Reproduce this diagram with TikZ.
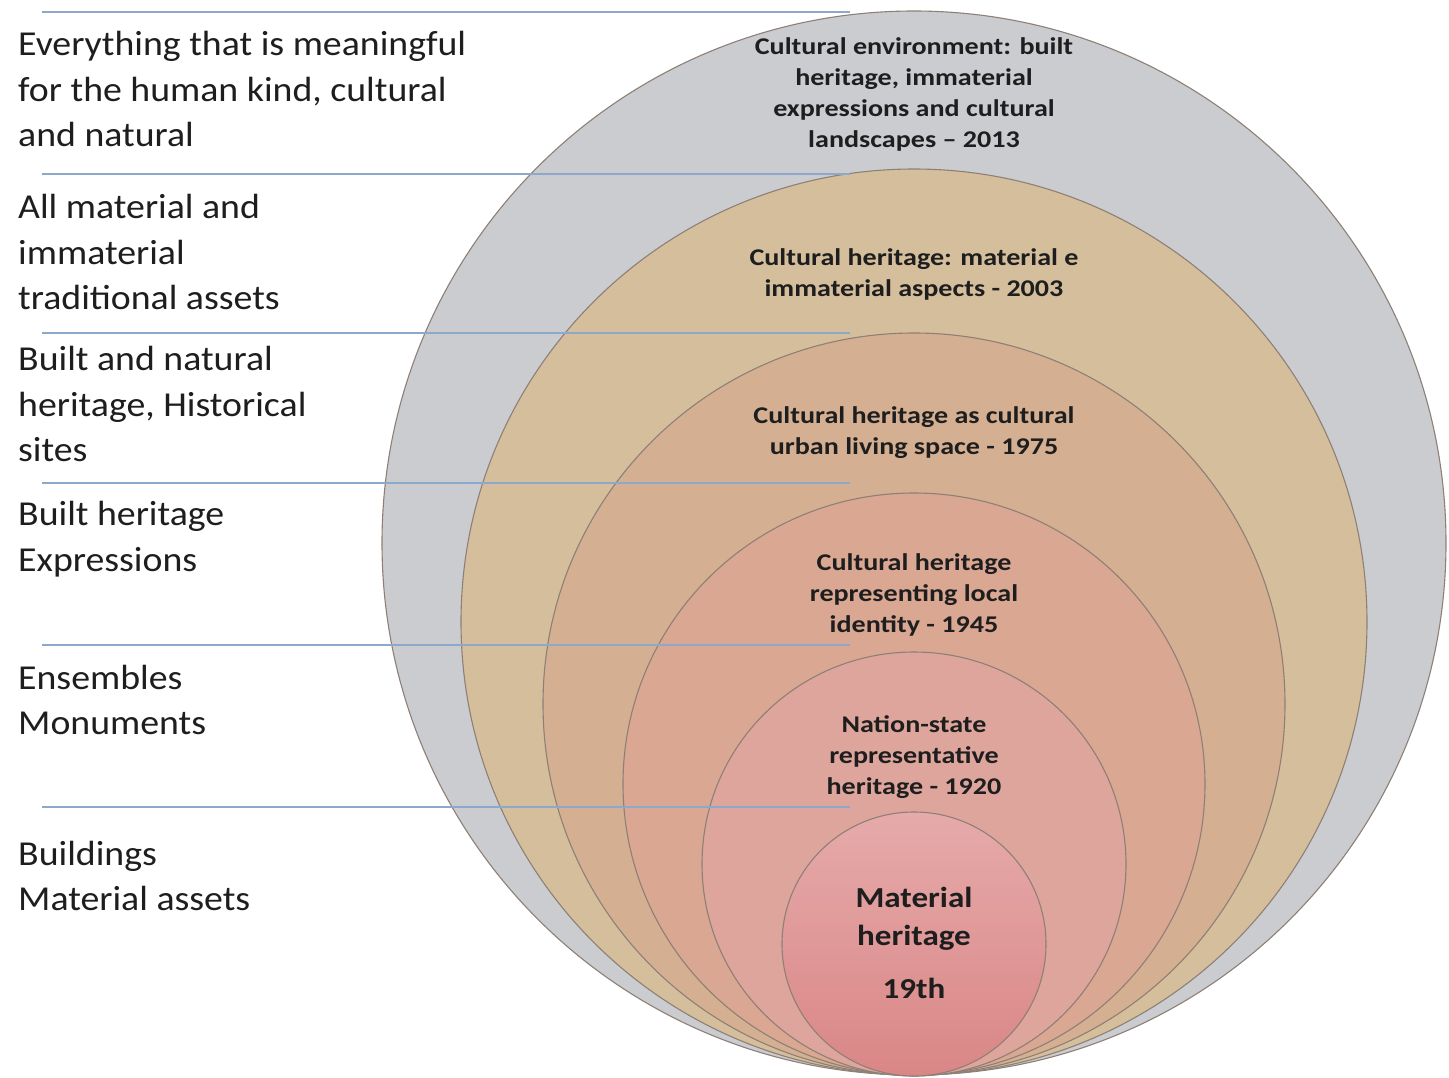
\documentclass[tikz,border=0pt]{standalone}
\usepackage{fontspec}
\setmainfont{Carlito}
\newfontfamily\sidefont[FakeStretch=1.08]{Carlito}
\newfontfamily\ringfont[FakeStretch=1.17]{Carlito}
\newfontfamily\corefont[FakeStretch=1.14]{Carlito}
\usepackage{tikz}

\definecolor{ringgray}{HTML}{CBCCD0}
\definecolor{ringtan}{HTML}{D5BE9C}
\definecolor{ringsand}{HTML}{D5AF91}
\definecolor{ringsalmon}{HTML}{D9A792}
\definecolor{ringrose}{HTML}{DEA59C}
\definecolor{corelight}{HTML}{E6AAAA}
\definecolor{coredark}{HTML}{DA8686}
\definecolor{ringedge}{HTML}{8E8076}
\definecolor{lineblue}{HTML}{8CA8CB}
\definecolor{inktext}{HTML}{1E1E1E}

\tikzset{
  ring/.style={draw=ringedge, line width=1.1pt},
  ringlabel/.style={align=center, inner sep=0pt, text=inktext, font=\ringfont\bfseries\fontsize{24}{31}\selectfont},
  corelabel/.style={align=center, inner sep=0pt, text=inktext, font=\corefont\bfseries\fontsize{29}{38}\selectfont},
  sidelabel/.style={anchor=west, align=left, inner sep=0pt, text=inktext, font=\sidefont\fontsize{35}{45.5}\selectfont},
  sepline/.style={draw=lineblue, line width=1.6pt}
}

\begin{document}
\begin{tikzpicture}[x=1pt, y=-1pt]
\useasboundingbox (0,0) rectangle (1449,1077);
\fill[white] (0,0) rectangle (1449,1077);

\fill[ringgray] (914,543) circle (532pt);
\draw[ring] (914,543) circle (532pt);
\fill[ringtan] (914,622) circle (453pt);
\draw[ring] (914,622) circle (453pt);
\fill[ringsand] (914,704) circle (371pt);
\draw[ring] (914,704) circle (371pt);
\fill[ringsalmon] (914,784) circle (291pt);
\draw[ring] (914,784) circle (291pt);
\fill[ringrose] (914,864) circle (212pt);
\draw[ring] (914,864) circle (212pt);
\shade[top color=corelight, bottom color=coredark] (914,944) circle (132pt);
\draw[ring] (914,944) circle (132pt);

\coordinate (s1a) at (42,12);   \coordinate (s1b) at (850,12);
\coordinate (s2a) at (42,174);  \coordinate (s2b) at (850,174);
\coordinate (s3a) at (42,333);  \coordinate (s3b) at (850,333);
\coordinate (s4a) at (42,483);  \coordinate (s4b) at (850,483);
\coordinate (s5a) at (42,645);  \coordinate (s5b) at (850,645);
\coordinate (s6a) at (42,807);  \coordinate (s6b) at (850,807);
\draw[sepline] (s1a) -- (s1b);
\draw[sepline] (s2a) -- (s2b);
\draw[sepline] (s3a) -- (s3b);
\draw[sepline] (s4a) -- (s4b);
\draw[sepline] (s5a) -- (s5b);
\draw[sepline] (s6a) -- (s6b);

\node[sidelabel] (everything) at (18,89) {Everything that is meaningful\\for the human kind, cultural\\and natural};
\node[sidelabel] (allassets) at (18,252) {All material and\\immaterial\\traditional assets};
\node[sidelabel] (builtnatural) at (18,404) {Built and natural\\heritage, Historical\\sites};
\node[sidelabel] (builtexpr) at (18,539) {Built heritage\\Expressions};
\node[sidelabel] (ensembles) at (18,700) {Ensembles\\Monuments};
\node[sidelabel] (buildings) at (18,876) {Buildings\\Material assets};

\node[ringlabel] (environment) at (914,94) {Cultural environment: built\\heritage, immaterial\\expressions and cultural\\landscapes – 2013};
\node[ringlabel] (heritage2003) at (914,274) {Cultural heritage: material e\\immaterial aspects - 2003};
\node[ringlabel] (heritage1975) at (914,433) {Cultural heritage as cultural\\urban living space - 1975};
\node[ringlabel] (heritage1945) at (914,595) {Cultural heritage\\representing local\\identity - 1945};
\node[ringlabel] (heritage1920) at (914,757) {Nation-state\\representative\\heritage - 1920};
\node[corelabel] (material) at (914,919) {Material\\heritage};
\node[corelabel] (nineteenth) at (914,988) {19th};
\end{tikzpicture}
\end{document}
